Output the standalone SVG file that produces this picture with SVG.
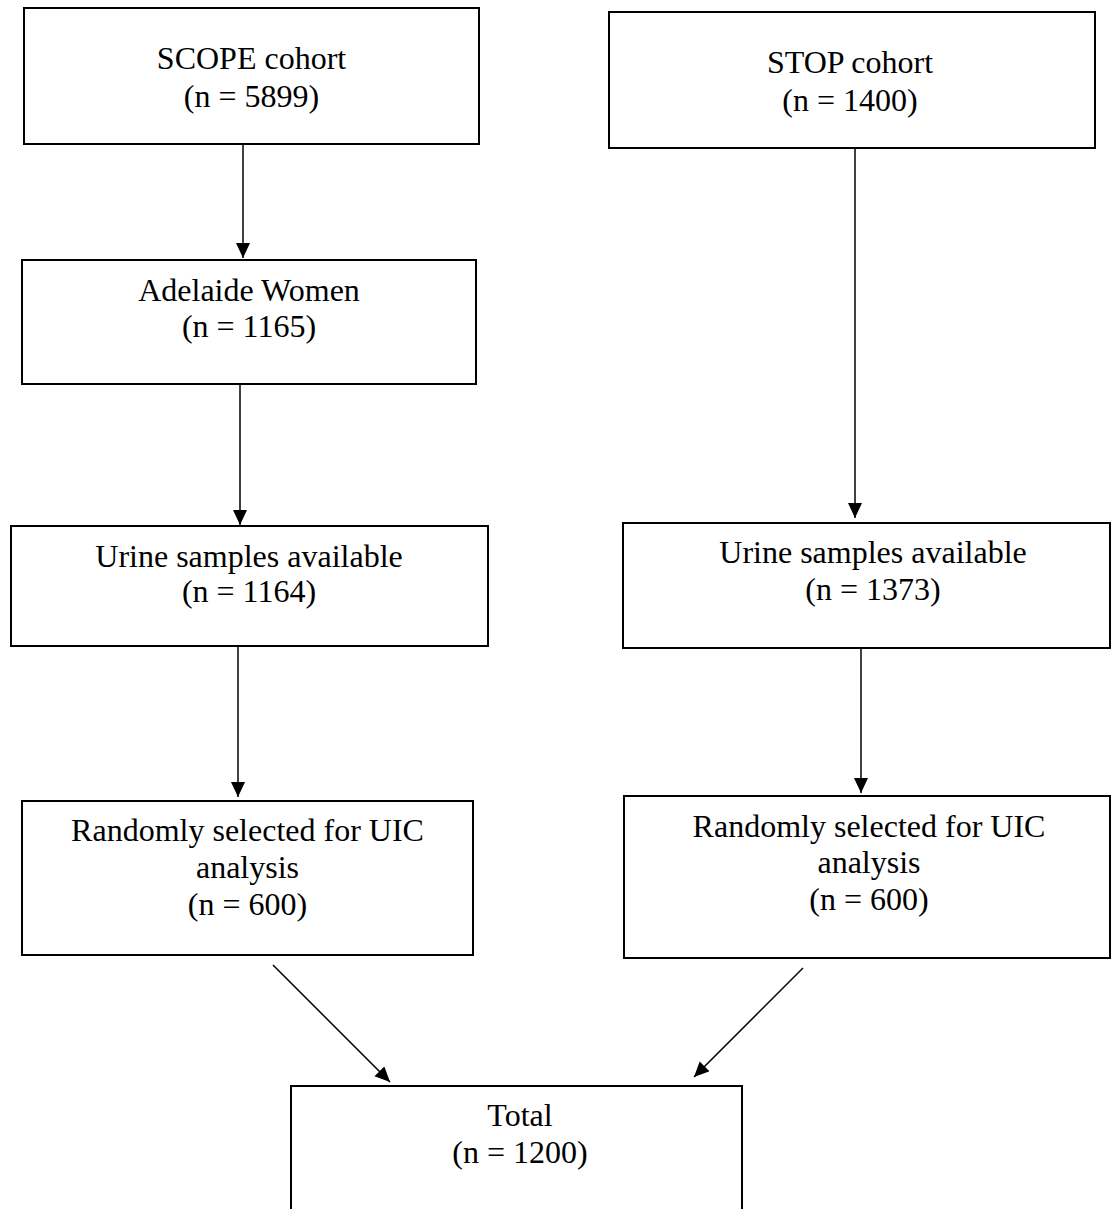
<svg xmlns="http://www.w3.org/2000/svg" width="1113" height="1209" viewBox="0 0 1113 1209">
<style>
.box{fill:#fff;stroke:#000;stroke-width:2}
.t{font-family:"Liberation Serif","Times New Roman",serif;font-size:32px;fill:#000;text-anchor:middle}
.c{stroke:#000;stroke-width:1.5;fill:none;marker-end:url(#ah)}
</style>
<defs>
<marker id="ah" markerUnits="userSpaceOnUse" markerWidth="16" markerHeight="15" refX="15" refY="7" orient="auto">
<path d="M0,0 L15,7 L0,14 z" fill="#000"/>
</marker>
</defs>
<rect width="1113" height="1209" fill="#fff"/>
<g id="connectors">
<line class="c" x1="243" y1="145" x2="243" y2="258"/>
<line class="c" x1="240" y1="385" x2="240" y2="525"/>
<line class="c" x1="238" y1="647" x2="238" y2="797"/>
<line class="c" x1="855" y1="149" x2="855" y2="518"/>
<line class="c" x1="861" y1="649" x2="861" y2="793"/>
<line class="c" x1="273" y1="965" x2="390" y2="1082"/>
<line class="c" x1="803" y1="968" x2="694" y2="1077"/>
</g>
<g id="scope">
<rect class="box" x="24" y="8" width="455" height="136"/>
<text class="t" x="251.5" y="69">SCOPE cohort</text>
<text class="t" x="251.5" y="107">(n = 5899)</text>
</g>
<g id="stop">
<rect class="box" x="609" y="12" width="486" height="136"/>
<text class="t" x="850" y="73">STOP cohort</text>
<text class="t" x="850" y="111">(n = 1400)</text>
</g>
<g id="adelaide">
<rect class="box" x="22" y="260" width="454" height="124"/>
<text class="t" x="249" y="301">Adelaide Women</text>
<text class="t" x="249" y="337">(n = 1165)</text>
</g>
<g id="urine-left">
<rect class="box" x="11" y="526" width="477" height="120"/>
<text class="t" x="249" y="567">Urine samples available</text>
<text class="t" x="249" y="602">(n = 1164)</text>
</g>
<g id="urine-right">
<rect class="box" x="623" y="523" width="487" height="125"/>
<text class="t" x="873" y="563">Urine samples available</text>
<text class="t" x="873" y="600">(n = 1373)</text>
</g>
<g id="random-left">
<rect class="box" x="22" y="801" width="451" height="154"/>
<text class="t" x="247.5" y="841">Randomly selected for UIC</text>
<text class="t" x="247.5" y="878">analysis</text>
<text class="t" x="247.5" y="915">(n = 600)</text>
</g>
<g id="random-right">
<rect class="box" x="624" y="796" width="486" height="162"/>
<text class="t" x="869" y="837">Randomly selected for UIC</text>
<text class="t" x="869" y="873">analysis</text>
<text class="t" x="869" y="910">(n = 600)</text>
</g>
<g id="total">
<path class="box" d="M291,1215 L291,1086 L742,1086 L742,1215"/>
<text class="t" x="520" y="1126">Total</text>
<text class="t" x="520" y="1163">(n = 1200)</text>
</g>
</svg>
